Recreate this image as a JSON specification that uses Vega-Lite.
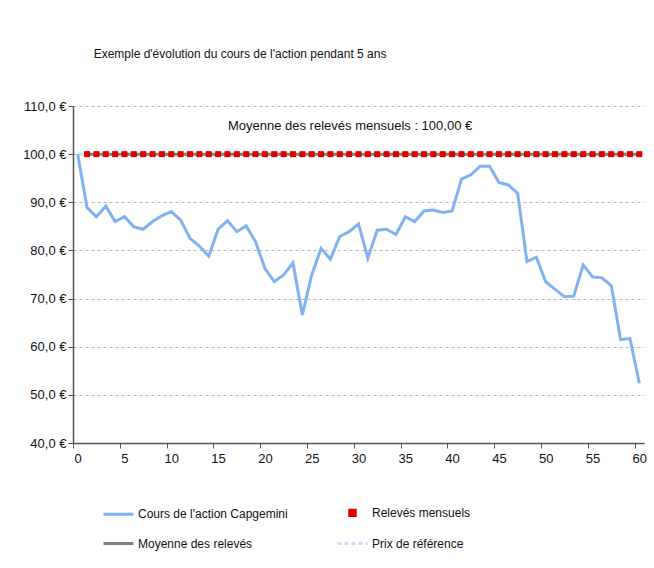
{
  "$schema": "https://vega.github.io/schema/vega-lite/v6.json",
  "width": 571,
  "height": 337,
  "autosize": {"type": "none"},
  "padding": {"left": 73, "top": 106, "right": 10, "bottom": 125},
  "background": "white",
  "config": {
    "font": "Liberation Sans",
    "view": {"stroke": null}
  },
  "title": {
    "text": "Exemple d'évolution du cours de l'action pendant 5 ans",
    "anchor": "start",
    "dx": 71,
    "offset": 39,
    "fontSize": 12,
    "fontWeight": "normal",
    "color": "#111111"
  },
  "datasets": {
    "cours": [
      {"mois": 0, "valeur": 100}, {"mois": 1, "valeur": 88.9}, {"mois": 2, "valeur": 87.0}, {"mois": 3, "valeur": 89.2},
      {"mois": 4, "valeur": 86.0}, {"mois": 5, "valeur": 87.0}, {"mois": 6, "valeur": 84.9}, {"mois": 7, "valeur": 84.4},
      {"mois": 8, "valeur": 86.0}, {"mois": 9, "valeur": 87.2}, {"mois": 10, "valeur": 88.1}, {"mois": 11, "valeur": 86.3},
      {"mois": 12, "valeur": 82.5}, {"mois": 13, "valeur": 80.9}, {"mois": 14, "valeur": 78.8}, {"mois": 15, "valeur": 84.4},
      {"mois": 16, "valeur": 86.2}, {"mois": 17, "valeur": 83.9}, {"mois": 18, "valeur": 85.1}, {"mois": 19, "valeur": 81.8},
      {"mois": 20, "valeur": 76.3}, {"mois": 21, "valeur": 73.5}, {"mois": 22, "valeur": 74.9}, {"mois": 23, "valeur": 77.4},
      {"mois": 24, "valeur": 66.6}, {"mois": 25, "valeur": 74.9}, {"mois": 26, "valeur": 80.4}, {"mois": 27, "valeur": 78.2},
      {"mois": 28, "valeur": 82.9}, {"mois": 29, "valeur": 83.9}, {"mois": 30, "valeur": 85.5}, {"mois": 31, "valeur": 78.4},
      {"mois": 32, "valeur": 84.2}, {"mois": 33, "valeur": 84.4}, {"mois": 34, "valeur": 83.3}, {"mois": 35, "valeur": 87.0},
      {"mois": 36, "valeur": 86.0}, {"mois": 37, "valeur": 88.2}, {"mois": 38, "valeur": 88.4}, {"mois": 39, "valeur": 87.9},
      {"mois": 40, "valeur": 88.2}, {"mois": 41, "valeur": 94.8}, {"mois": 42, "valeur": 95.7}, {"mois": 43, "valeur": 97.5},
      {"mois": 44, "valeur": 97.5}, {"mois": 45, "valeur": 94.1}, {"mois": 46, "valeur": 93.6}, {"mois": 47, "valeur": 91.9},
      {"mois": 48, "valeur": 77.7}, {"mois": 49, "valeur": 78.6}, {"mois": 50, "valeur": 73.5}, {"mois": 51, "valeur": 71.9},
      {"mois": 52, "valeur": 70.4}, {"mois": 53, "valeur": 70.5}, {"mois": 54, "valeur": 77.0}, {"mois": 55, "valeur": 74.5},
      {"mois": 56, "valeur": 74.3}, {"mois": 57, "valeur": 72.7}, {"mois": 58, "valeur": 61.5}, {"mois": 59, "valeur": 61.7},
      {"mois": 60, "valeur": 52.4}
    ],
    "releves": [
      {"mois": 1, "valeur": 100}, {"mois": 2, "valeur": 100}, {"mois": 3, "valeur": 100}, {"mois": 4, "valeur": 100},
      {"mois": 5, "valeur": 100}, {"mois": 6, "valeur": 100}, {"mois": 7, "valeur": 100}, {"mois": 8, "valeur": 100},
      {"mois": 9, "valeur": 100}, {"mois": 10, "valeur": 100}, {"mois": 11, "valeur": 100}, {"mois": 12, "valeur": 100},
      {"mois": 13, "valeur": 100}, {"mois": 14, "valeur": 100}, {"mois": 15, "valeur": 100}, {"mois": 16, "valeur": 100},
      {"mois": 17, "valeur": 100}, {"mois": 18, "valeur": 100}, {"mois": 19, "valeur": 100}, {"mois": 20, "valeur": 100},
      {"mois": 21, "valeur": 100}, {"mois": 22, "valeur": 100}, {"mois": 23, "valeur": 100}, {"mois": 24, "valeur": 100},
      {"mois": 25, "valeur": 100}, {"mois": 26, "valeur": 100}, {"mois": 27, "valeur": 100}, {"mois": 28, "valeur": 100},
      {"mois": 29, "valeur": 100}, {"mois": 30, "valeur": 100}, {"mois": 31, "valeur": 100}, {"mois": 32, "valeur": 100},
      {"mois": 33, "valeur": 100}, {"mois": 34, "valeur": 100}, {"mois": 35, "valeur": 100}, {"mois": 36, "valeur": 100},
      {"mois": 37, "valeur": 100}, {"mois": 38, "valeur": 100}, {"mois": 39, "valeur": 100}, {"mois": 40, "valeur": 100},
      {"mois": 41, "valeur": 100}, {"mois": 42, "valeur": 100}, {"mois": 43, "valeur": 100}, {"mois": 44, "valeur": 100},
      {"mois": 45, "valeur": 100}, {"mois": 46, "valeur": 100}, {"mois": 47, "valeur": 100}, {"mois": 48, "valeur": 100},
      {"mois": 49, "valeur": 100}, {"mois": 50, "valeur": 100}, {"mois": 51, "valeur": 100}, {"mois": 52, "valeur": 100},
      {"mois": 53, "valeur": 100}, {"mois": 54, "valeur": 100}, {"mois": 55, "valeur": 100}, {"mois": 56, "valeur": 100},
      {"mois": 57, "valeur": 100}, {"mois": 58, "valeur": 100}, {"mois": 59, "valeur": 100}, {"mois": 60, "valeur": 100}
    ],
    "prix": [{"mois": 0, "valeur": 100}, {"mois": 60, "valeur": 100}],
    "moyenne": [{"mois": 1, "valeur": 100}, {"mois": 60, "valeur": 100}],
    "annotation": [{"label": "Moyenne des relevés mensuels : 100,00 €"}]
  },
  "layer": [
    {
      "data": {"name": "prix"},
      "mark": {"type": "line", "strokeDash": [5, 3], "strokeWidth": 3},
      "encoding": {
        "x": {
          "field": "mois",
          "type": "quantitative",
          "scale": {"domain": [-0.5, 60.5], "nice": false, "zero": false},
          "axis": {
            "title": null,
            "values": [0, 5, 10, 15, 20, 25, 30, 35, 40, 45, 50, 55, 60],
            "grid": false,
            "tickOffset": -4.68,
            "labelOffset": 4.68,
            "tickSize": 5,
            "tickColor": "#555555",
            "domainColor": "#555555",
            "domainWidth": 1.5,
            "labelFontSize": 13,
            "labelColor": "#111111",
            "labelPadding": 4,
            "labelFlush": false
          }
        },
        "y": {
          "field": "valeur",
          "type": "quantitative",
          "scale": {"domain": [40, 110], "nice": false, "zero": false},
          "axis": {
            "title": null,
            "values": [40, 50, 60, 70, 80, 90, 100, 110],
            "grid": true,
            "gridDash": [3, 3],
            "gridColor": "#b5b5b5",
            "tickSize": 5,
            "tickColor": "#555555",
            "domainColor": "#555555",
            "domainWidth": 1.5,
            "labelFontSize": 13,
            "labelColor": "#111111",
            "labelPadding": 2,
            "labelExpr": "replace(format(datum.value, '.1f'), '.', ',') + ' €'"
          }
        },
        "color": {
          "datum": "Prix de référence",
          "type": "nominal",
          "scale": {
            "domain": ["Cours de l'action Capgemini", "Relevés mensuels", "Moyenne des relevés", "Prix de référence"],
            "range": ["#7fb2ee", "#e00000", "#808080", "#c8ddf5"]
          },
          "legend": {
            "title": null,
            "orient": "none",
            "legendX": 29,
            "legendY": 390,
            "columns": 2,
            "direction": "horizontal",
            "columnPadding": 43,
            "rowPadding": 5,
            "symbolSize": 900,
            "labelFontSize": 12,
            "labelColor": "#111111",
            "labelOffset": 3,
            "labelLimit": 300,
            "encode": {
              "symbols": {
                "update": {
                  "shape": {"signal": "datum.value === 'Relevés mensuels' ? 'square' : 'stroke'"},
                  "size": {"signal": "datum.value === 'Relevés mensuels' ? 30 : 900"},
                  "strokeDash": {"signal": "datum.value === 'Prix de référence' ? [4, 3] : [1, 0]"},
                  "fill": {"signal": "datum.value === 'Relevés mensuels' ? '#e00000' : 'transparent'"},
                  "stroke": {"signal": "datum.value === 'Relevés mensuels' ? 'transparent' : datum.value === 'Prix de référence' ? '#c8ddf5' : datum.value === 'Moyenne des relevés' ? '#808080' : '#7fb2ee'"},
                  "strokeWidth": {"value": 3},
                  "opacity": {"value": 1}
                }
              }
            }
          }
        }
      }
    },
    {
      "data": {"name": "moyenne"},
      "mark": {"type": "line", "strokeWidth": 3},
      "encoding": {
        "x": {"field": "mois", "type": "quantitative"},
        "y": {"field": "valeur", "type": "quantitative"},
        "color": {"datum": "Moyenne des relevés", "type": "nominal"}
      }
    },
    {
      "data": {"name": "cours"},
      "mark": {"type": "line", "strokeWidth": 3},
      "encoding": {
        "x": {"field": "mois", "type": "quantitative"},
        "y": {"field": "valeur", "type": "quantitative"},
        "color": {"datum": "Cours de l'action Capgemini", "type": "nominal"}
      }
    },
    {
      "data": {"name": "releves"},
      "mark": {"type": "square", "size": 36, "filled": true, "opacity": 1},
      "encoding": {
        "x": {"field": "mois", "type": "quantitative"},
        "y": {"field": "valeur", "type": "quantitative"},
        "color": {"datum": "Relevés mensuels", "type": "nominal"}
      }
    },
    {
      "data": {"name": "annotation"},
      "mark": {"type": "text", "fontSize": 13, "color": "#111111", "align": "center", "baseline": "middle"},
      "encoding": {
        "x": {"datum": 29.1, "type": "quantitative"},
        "y": {"datum": 105.8, "type": "quantitative"},
        "text": {"field": "label", "type": "nominal"}
      }
    }
  ]
}
